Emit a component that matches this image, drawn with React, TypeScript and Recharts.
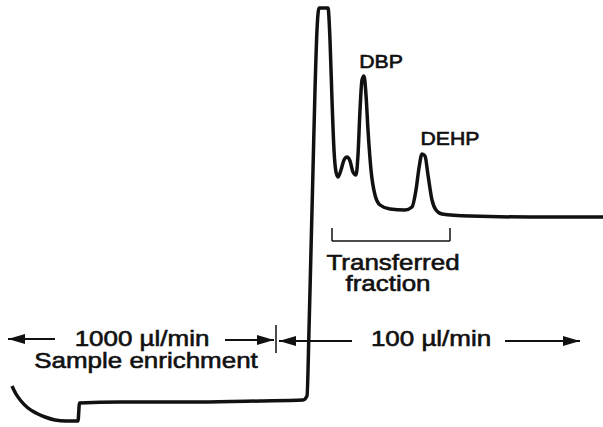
import { LineChart, Line, XAxis, YAxis, ReferenceLine, ReferenceDot } from "recharts";

// trace (time units, detector response units)
const traceTime = [
  12, 16, 21, 28, 36, 45, 55, 66, 78, 79.5, 120, 200, 260, 303, 307, 309, 311, 313, 315, 317, 319,
  328, 330, 332, 334, 336, 338, 341, 344, 347, 350, 353, 356, 358, 360, 362, 364, 366, 368, 371,
  375, 380, 390, 405, 412, 416, 419, 422, 425, 428, 432, 436, 442, 470, 530, 603,
];
const traceSignal = [
  41, 33, 26, 19, 14, 10, 7, 6, 6, 24, 25, 25, 26, 27, 31, 97, 177, 257, 337, 397, 419,
  419, 387, 327, 277, 255, 250, 257, 267, 270, 266, 255, 252, 272, 317, 347, 351, 332, 297, 257,
  232, 222, 218, 217, 220, 237, 259, 273, 271, 252, 227, 217, 213, 211, 210, 210,
];

const peakNames = ["DBP", "DEHP"];
const peakTimes = [381, 450];
const peakLabelLevels = [359, 282];

const flowLabels = ["1000 µl/min", "100 µl/min"];
const flowLabelTimes = [142, 431];
const phaseLabel = "Sample enrichment";
const fractionLines = ["Transferred", "fraction"];

const data = traceTime.map((t, i) => ({ t, v: traceSignal[i] }));

const ink = "#111";
const font = "'Liberation Sans', Arial, Helvetica, sans-serif";

const textShape = (label: string, size: number) => (p: any) => (
  <text
    transform={`translate(${p.cx},${p.cy}) scale(1.18,1)`}
    textAnchor="middle"
    fontFamily={font}
    fontSize={size}
    fill={ink}
    stroke={ink}
    strokeWidth={0.6}
  >
    {label}
  </text>
);

// filled arrow head, dir = 1 points right, -1 points left
const headShape = (dir: number) => (p: any) => (
  <path
    d={`M${p.cx},${p.cy} L${p.cx - dir * 17},${p.cy - 5} L${p.cx - dir * 17},${p.cy + 5} Z`}
    fill={ink}
  />
);

const arrows = [
  { x1: 8, x2: 55, y: 88, dir: -1 },
  { x1: 225, x2: 274, y: 87, dir: 1 },
  { x1: 279, x2: 352, y: 86, dir: -1 },
  { x1: 505, x2: 580, y: 86, dir: 1 },
];

export default function App() {
  return (
    <div style={{ position: "absolute", left: 0, top: 0, background: "#fff" }}>
      <LineChart width={603} height={427} data={data} margin={{ top: 0, right: 0, left: 0, bottom: 0 }}>
        <XAxis dataKey="t" type="number" domain={[0, 603]} hide />
        <YAxis type="number" domain={[0, 427]} hide />
        <Line
          dataKey="v"
          type="monotone"
          stroke={ink}
          strokeWidth={3.5}
          strokeLinejoin="round"
          strokeDasharray="none"
          dot={false}
          activeDot={false}
          isAnimationActive={false}
        />

        {/* transferred fraction bracket */}
        <ReferenceLine segment={[{ x: 332, y: 199 }, { x: 332, y: 186 }]} stroke={ink} strokeWidth={1.5} />
        <ReferenceLine segment={[{ x: 332, y: 186 }, { x: 450, y: 186 }]} stroke={ink} strokeWidth={1.5} />
        <ReferenceLine segment={[{ x: 450, y: 199 }, { x: 450, y: 186 }]} stroke={ink} strokeWidth={1.5} />
        <ReferenceDot x={393} y={157} r={0} shape={textShape(fractionLines[0], 22)} />
        <ReferenceDot x={388} y={136} r={0} shape={textShape(fractionLines[1], 22)} />

        {/* peak names */}
        {peakNames.map((n, i) => (
          <ReferenceDot key={n} x={peakTimes[i]} y={peakLabelLevels[i]} r={0} shape={textShape(n, 18)} />
        ))}

        {/* flow-rate arrows */}
        {arrows.map((a, i) => (
          <ReferenceLine
            key={`s${i}`}
            segment={[{ x: a.x1, y: a.y }, { x: a.x2, y: a.y }]}
            stroke={ink}
            strokeWidth={2}
          />
        ))}
        {arrows.map((a, i) => (
          <ReferenceDot
            key={`h${i}`}
            x={a.dir > 0 ? a.x2 : a.x1}
            y={a.y}
            r={0}
            shape={headShape(a.dir)}
          />
        ))}
        <ReferenceLine segment={[{ x: 276, y: 102 }, { x: 276, y: 74 }]} stroke={ink} strokeWidth={1.5} />

        {flowLabels.map((l, i) => (
          <ReferenceDot key={l} x={flowLabelTimes[i]} y={81} r={0} shape={textShape(l, 22)} />
        ))}
        <ReferenceDot x={146} y={59} r={0} shape={textShape(phaseLabel, 22)} />
      </LineChart>
    </div>
  );
}
